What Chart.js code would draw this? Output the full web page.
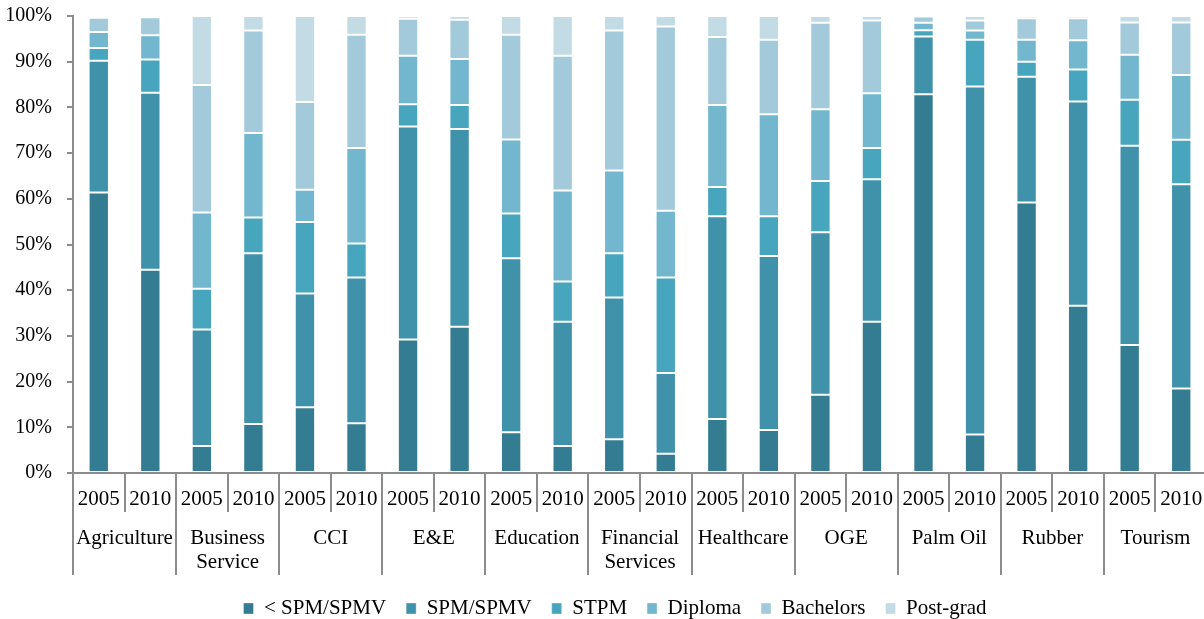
<!DOCTYPE html>
<html>
<head>
<meta charset="utf-8">
<script src="https://cdn.jsdelivr.net/npm/chart.js@4/dist/chart.umd.min.js"></script>
<style>
  html, body { margin: 0; padding: 0; background: #fff; overflow: hidden; width: 1204px; height: 619px; }
  #wrap { position: absolute; left: 0; top: -11px; width: 1230px; height: 640px; }
</style>
</head>
<body>
<div id="wrap"><canvas id="c" width="1230" height="640"></canvas></div>
<script>
// Sectors (group labels, one entry per text line) and survey years
const sectors = [["Agriculture"], ["Business", "Service"], ["CCI"], ["E&E"], ["Education"],
                 ["Financial", "Services"], ["Healthcare"], ["OGE"], ["Palm Oil"], ["Rubber"], ["Tourism"]];
const years = ["2005", "2010"];

// Share of workforce (%) by education level, one value per sector-year bar
const belowSPM  = [61.4, 44.5, 5.9, 10.7, 14.4, 10.9, 29.2, 32.0, 8.9, 5.9, 7.4, 4.2, 11.8, 9.4, 17.1, 33.1, 82.9, 8.4, 59.2, 36.6, 28.0, 18.5];
const spm       = [28.8, 38.7, 25.5, 37.4, 24.9, 31.9, 46.6, 43.3, 38.1, 27.2, 31.0, 17.7, 44.4, 38.1, 35.6, 31.2, 12.6, 76.2, 27.5, 44.7, 43.6, 44.7];
const stpm      = [2.8, 7.3, 8.9, 7.8, 15.6, 7.4, 4.9, 5.2, 9.8, 8.8, 9.7, 20.9, 6.4, 8.7, 11.2, 6.8, 1.4, 10.2, 3.3, 7.0, 10.1, 9.7];
const diploma   = [3.5, 5.3, 16.7, 18.5, 7.1, 20.9, 10.6, 10.1, 16.2, 19.9, 18.1, 14.6, 17.9, 22.3, 15.7, 12.0, 1.6, 2.0, 4.8, 6.4, 9.8, 14.2];
const bachelors = [3.1, 3.9, 27.9, 22.4, 19.2, 24.8, 8.1, 8.6, 22.9, 29.5, 30.6, 40.3, 14.9, 16.3, 18.9, 15.9, 1.4, 2.2, 4.7, 4.8, 7.1, 11.5];
const postGrad  = [0.4, 0.3, 15.1, 3.2, 18.8, 4.1, 0.6, 0.8, 4.1, 8.7, 3.2, 2.3, 4.6, 5.2, 1.5, 1.0, 0.1, 1.0, 0.5, 0.5, 1.4, 1.4];

const seriesNames = ["< SPM/SPMV", "SPM/SPMV", "STPM", "Diploma", "Bachelors", "Post-grad"];
const seriesData = [belowSPM, spm, stpm, diploma, bachelors, postGrad];
const seriesColors = ["#347c91", "#4091aa", "#47a5be", "#72b7ce", "#a3cada", "#c2dbe4"];

const yTicks = [0, 10, 20, 30, 40, 50, 60, 70, 80, 90, 100];

// One category per sector-year pair
const categories = [];
sectors.forEach(s => years.forEach(y => categories.push({ sector: s, year: y })));

const FONT = '"Liberation Serif", "Times New Roman", serif';
const AXIS_GREY = '#8c8c8c';

// Two-level category axis: years, then sector names, with separators
const multiLevelAxis = {
  id: 'multiLevelAxis',
  afterDraw(chart) {
    const { ctx } = chart;
    const xs = chart.scales.x;
    const base = chart.chartArea.bottom;
    ctx.save();
    ctx.font = '21px ' + FONT;
    ctx.fillStyle = '#000';
    ctx.textAlign = 'center';
    ctx.textBaseline = 'middle';
    categories.forEach((c, i) => {
      ctx.fillText(c.year, xs.getPixelForValue(i), base + 26);
    });
    sectors.forEach((lines, g) => {
      const cx = xs.getPixelForValue(g * years.length + (years.length - 1) / 2);
      lines.forEach((t, j) => ctx.fillText(t, cx, base + 65 + j * 24));
    });
    ctx.strokeStyle = AXIS_GREY;
    ctx.lineWidth = 2;
    for (let k = 0; k <= categories.length; k++) {
      const x = Math.round(xs.getPixelForValue(k - 0.5));
      const groupEdge = k % years.length === 0;
      ctx.beginPath();
      ctx.moveTo(x, base);
      ctx.lineTo(x, base + (groupEdge ? 102 : 39));
      ctx.stroke();
    }
    ctx.restore();
  }
};

new Chart(document.getElementById('c'), {
  type: 'bar',
  data: {
    labels: categories.map(c => c.sector.join(' ') + ' ' + c.year),
    datasets: seriesNames.map((name, i) => ({
      label: name,
      data: seriesData[i],
      backgroundColor: seriesColors[i],
      borderColor: 'rgba(255,255,255,0.35)',
      borderWidth: 1,
      borderSkipped: false,
      categoryPercentage: 1.0,
      barPercentage: 0.395
    }))
  },
  options: {
    responsive: false,
    animation: false,
    devicePixelRatio: 1,
    layout: { padding: 0 },
    plugins: {
      tooltip: { enabled: false },
      legend: {
        position: 'bottom',
        labels: {
          color: '#000',
          font: { family: FONT, size: 21 },
          boxWidth: 10,
          boxHeight: 11,
          padding: 20
        }
      }
    },
    scales: {
      x: {
        stacked: true,
        grid: { display: false },
        border: { display: true, color: AXIS_GREY, width: 2 },
        ticks: { display: false },
        afterFit(scale) { scale.height = 105; }
      },
      y: {
        stacked: true,
        min: 0,
        max: 100,
        afterBuildTicks(scale) { scale.ticks = yTicks.map(v => ({ value: v })); },
        ticks: {
          color: '#000',
          font: { family: FONT, size: 20 },
          padding: 15,
          callback: v => v + '%'
        },
        grid: { drawOnChartArea: false, drawTicks: true, tickLength: 6, color: AXIS_GREY, lineWidth: 2 },
        border: { display: true, color: AXIS_GREY, width: 2 },
        afterFit(scale) { scale.width = 73; }
      },
      // empty right-hand margin scale; the plot runs past the visible edge
      edge: {
        position: 'right',
        grid: { display: false },
        border: { display: false },
        ticks: { display: false },
        afterFit(scale) { scale.width = 23; }
      }
    }
  },
  plugins: [multiLevelAxis]
});
</script>
</body>
</html>
